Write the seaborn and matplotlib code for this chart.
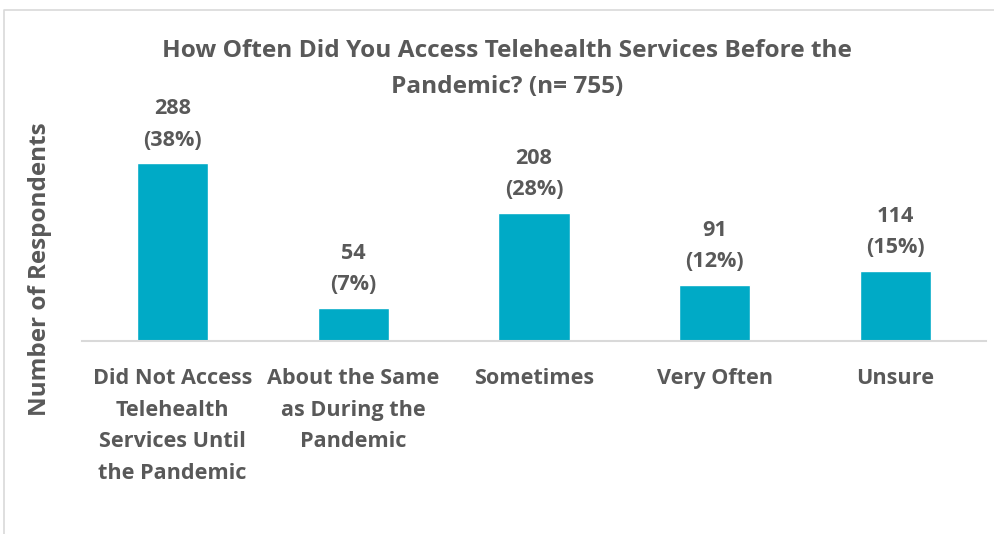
import matplotlib
matplotlib.use("Agg")
import matplotlib.pyplot as plt
from matplotlib.lines import Line2D
import seaborn as sns
import pandas as pd

# Survey responses
categories = [
    "Did Not Access\nTelehealth\nServices Until\nthe Pandemic",
    "About the Same\nas During the\nPandemic",
    "Sometimes",
    "Very Often",
    "Unsure",
]
counts = [288, 54, 208, 91, 114]
percents = [38, 7, 28, 12, 15]

title = "How Often Did You Access Telehealth Services Before the\nPandemic? (n= 755)"
ylabel = "Number of Respondents"

bar_color = "#00AAC6"
text_color = "#595959"
line_color = "#D9D9D9"

sns.set_theme(style="white")
plt.rcParams["font.family"] = ["Open Sans", "DejaVu Sans"]

W, H = 994, 534
fig = plt.figure(figsize=(W / 100, H / 100), dpi=100)

# Plot area in pixel terms: left 82, right 986, baseline at y=341
ax_left, ax_right = 82, 986
ax_bottom, ax_top = 341, 125
ax = fig.add_axes([ax_left / W, 1 - ax_bottom / H,
                   (ax_right - ax_left) / W, (ax_bottom - ax_top) / H])

df = pd.DataFrame({"category": categories, "count": counts})
sns.barplot(data=df, x="category", y="count", color=bar_color,
            width=0.393, saturation=1, ax=ax)

ax.set_xlim(-0.5, len(categories) - 0.5)
ax.set_ylim(0, 350)

fs = 15.6
ls = 1.66
for i, (c, p) in enumerate(zip(counts, percents)):
    ax.annotate(f"{c}\n({p}%)", xy=(i, c), xytext=(0, 9),
                textcoords="offset points", ha="center", va="bottom",
                fontsize=fs, fontweight="bold", color=text_color,
                linespacing=ls)

ax.set_yticks([])
ax.set_xlabel("")
ax.tick_params(axis="x", length=0, pad=19.5)
for lbl in ax.get_xticklabels():
    lbl.set_fontsize(fs)
    lbl.set_fontweight("bold")
    lbl.set_color(text_color)
    lbl.set_linespacing(ls)

for side in ["top", "right", "left"]:
    ax.spines[side].set_visible(False)
ax.spines["bottom"].set_color(line_color)
ax.spines["bottom"].set_linewidth(1.5)

ax.set_ylabel(ylabel, fontsize=17.5, fontweight="bold", color=text_color)
ax.yaxis.set_label_coords((52 - ax_left) / (ax_right - ax_left),
                          (ax_bottom - 269) / (ax_bottom - ax_top))

fig.text(507 / W, 1 - 69 / H, title, ha="center", va="center",
         fontsize=17.6, fontweight="bold", color=text_color, linespacing=1.72)

# Outer chart frame (top and left edges)
fig.add_artist(Line2D([4 / W, 4 / W, 1.0], [0.0, 1 - 10 / H, 1 - 10 / H],
                      color=line_color, linewidth=1.2,
                      transform=fig.transFigure))

fig.savefig("out.png", dpi=100, facecolor="white")
